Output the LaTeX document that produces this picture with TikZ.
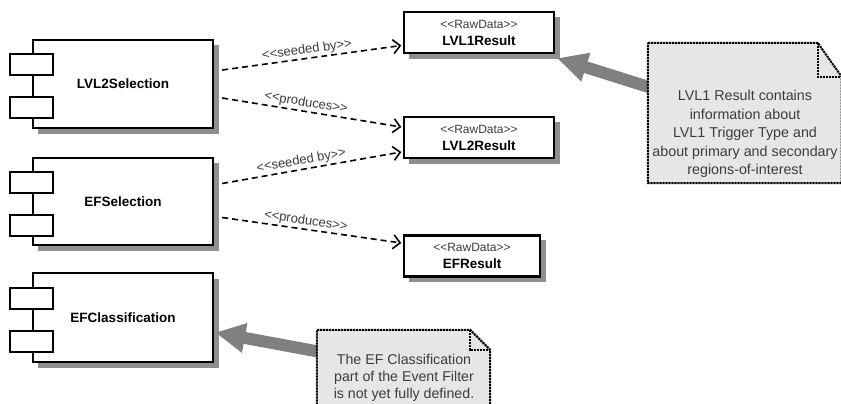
\documentclass[tikz,border=0pt]{standalone}
\usepackage{fontspec}
\newfontfamily\uml{Liberation Sans}
\usetikzlibrary{arrows.meta}
\definecolor{shadowgray}{HTML}{8F8F8F}
\definecolor{notefill}{HTML}{E6E6E6}
\definecolor{hintgray}{HTML}{808080}
\definecolor{labelgray}{HTML}{3C3C3C}
\newcommand\umlstereo[1]{{\color{labelgray}\fontsize{12}{13}\selectfont\mdseries #1}}
\begin{document}
\begin{tikzpicture}[x=1pt,y=-1pt,
  shadowbox/.style={fill=shadowgray, draw=none},
  comp/.style={draw, line width=2.4pt, fill=white, minimum width=180pt, inner sep=0pt,
    font=\uml\fontsize{13.5}{16}\selectfont\bfseries},
  port/.style={draw, line width=2.4pt, fill=white, minimum width=43pt, minimum height=21pt, inner sep=0pt},
  raw/.style={draw, line width=2.4pt, fill=white, minimum height=41pt, inner sep=0pt, align=center,
    font=\uml\fontsize{13.5}{17}\selectfont},
  dep/.style={line width=1.6pt, dash pattern=on 6pt off 4pt,
    -{Straight Barb[length=7pt,width=14pt,line width=1.6pt]}},
  lab/.style={sloped, above, inner sep=1.5pt, text=labelgray, font=\uml\fontsize{13}{14}\selectfont},
  hint/.style={draw=hintgray, line width=12pt, -{Triangle[length=30pt,width=28pt]}},
  notebox/.style={draw=none, inner sep=0pt},
  noteline/.style={line width=2pt, dash pattern=on 2.2pt off 0.8pt, fill=notefill},
  foldline/.style={line width=2pt, dash pattern=on 2.2pt off 0.8pt},
  notetext/.style={align=center, text=labelgray, inner sep=0pt}
]
\clip (0,0) rectangle (841,404);
\fill[white] (0,0) rectangle (841,404);

% shadows
\path[shadowbox] (38,45) rectangle (219,134);
\path[shadowbox] (38,163) rectangle (219,251);
\path[shadowbox] (38,279) rectangle (219,368);
\path[shadowbox] (409,17) rectangle (560,59);
\path[shadowbox] (409,122) rectangle (560,164);
\path[shadowbox] (409,240) rectangle (546,282);

% components
\node[comp, minimum height=88pt] (lvl2sel) at (123,84) {LVL2Selection};
\node[port] (lvl2selpa) at (31.5,64.5) {};
\node[port] (lvl2selpb) at (31.5,107.5) {};

\node[comp, minimum height=87pt] (efsel) at (123,201.5) {EFSelection};
\node[port] (efselpa) at (31.5,182.5) {};
\node[port] (efselpb) at (31.5,225.5) {};

\node[comp, minimum height=89pt] (efcls) at (123,317.5) {EFClassification};
\node[port] (efclspa) at (31.5,298.5) {};
\node[port] (efclspb) at (31.5,341.5) {};

% raw data
\node[raw, minimum width=150pt] (lvl1res) at (479,32.5)
  {\umlstereo{<<RawData>>}\\\textbf{LVL1Result}};
\node[raw, minimum width=150pt] (lvl2res) at (479,137.5)
  {\umlstereo{<<RawData>>}\\\textbf{LVL2Result}};
\node[raw, minimum width=136pt] (efres) at (472,256)
  {\umlstereo{<<RawData>>}\\\textbf{EFResult}};

% dependencies
\draw[dep] ([xshift=8pt,yshift=14pt]lvl2sel.east) -- node[lab, pos=0.48]{<<seeded by>>} ([xshift=-1.5pt,yshift=-13pt]lvl1res.west);
\draw[dep] ([xshift=8pt,yshift=-14pt]lvl2sel.east) -- node[lab, pos=0.46]{<<produces>>} ([xshift=-1.5pt,yshift=10.5pt]lvl2res.west);
\draw[dep] ([xshift=8pt,yshift=18pt]efsel.east) -- node[lab, pos=0.45]{<<seeded by>>} ([xshift=-1.5pt,yshift=-14.5pt]lvl2res.west);
\draw[dep] ([xshift=8pt,yshift=-16pt]efsel.east) -- node[lab, pos=0.46]{<<produces>>} ([xshift=-1.5pt,yshift=13pt]efres.west);

% notes (frames)
\node[notebox, minimum width=193.5pt, minimum height=140pt] (note1) at (744.75,113) {};
\node[notebox, minimum width=173pt, minimum height=90pt] (note2) at (403.5,375) {};

% hint arrows (under the notes)
\draw[hint] ([xshift=4pt,yshift=25pt]note1.west) -- ([shift={(2pt,-4pt)}]lvl1res.south east);
\draw[hint] ([xshift=4pt,yshift=23pt]note2.west) -- ([xshift=1pt,yshift=-15pt]efcls.east);

\draw[noteline] (note1.north west) -- ([xshift=-24pt]note1.north east) -- ([yshift=-34pt]note1.north east)
  -- (note1.south east) -- (note1.south west) -- cycle;
\draw[foldline] ([xshift=-24pt]note1.north east) -- ([xshift=-24pt,yshift=-34pt]note1.north east) -- ([yshift=-34pt]note1.north east);

\draw[noteline] (note2.north west) -- ([xshift=-20pt]note2.north east) -- ([yshift=-20pt]note2.north east)
  -- (note2.south east) -- (note2.south west) -- cycle;
\draw[foldline] ([xshift=-20pt]note2.north east) -- ([xshift=-20pt,yshift=-20pt]note2.north east) -- ([yshift=-20pt]note2.north east);

\node[notetext, font=\uml\fontsize{14.3}{18.5}\selectfont] (note1txt) at (745,134)
  {LVL1 Result contains\\ information about\\LVL1 Trigger Type and\\about primary and secondary\\regions-of-interest};
\node[notetext, font=\uml\fontsize{14.2}{17}\selectfont] (note2txt) at (404,378)
  {The EF Classification\\part of the Event Filter\\ is not yet fully defined.};
\end{tikzpicture}
\end{document}
